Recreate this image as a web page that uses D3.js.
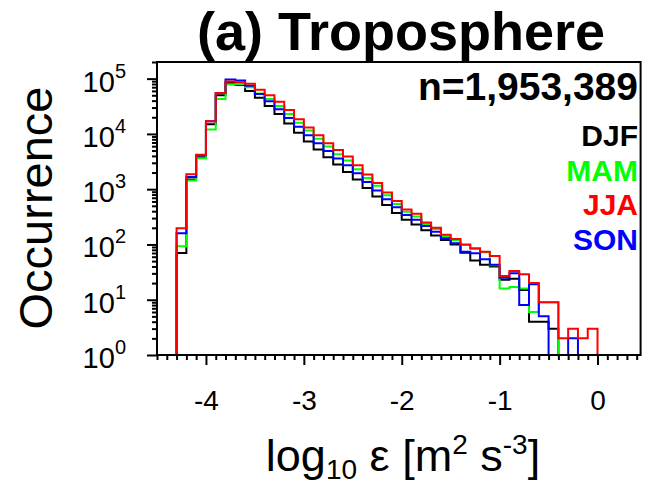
<!DOCTYPE html>
<html>
<head>
<meta charset="utf-8">
<script src="https://cdn.jsdelivr.net/npm/d3@7"></script>
<style>
  html, body { margin: 0; padding: 0; background: #fff; }
  text { font-family: "Liberation Sans", Arial, Helvetica, sans-serif; }
</style>
</head>
<body>
<div id="chart"></div>
<script>
// histogram bins: 0.1 wide, starting at log10(eps) = -4.3
const binStart = -4.3
const binWidth = 0.1

const seasons = ['DJF', 'MAM', 'JJA', 'SON']
const seasonColors = ['#000000', '#00ff00', '#ff0000', '#0000ff']

const djf = [70, 1500, 3800, 15000, 50000, 84000, 77000, 60000, 45000, 32000,
  23000, 15500, 10500, 7300, 5200, 3800, 2800, 2050, 1500, 1050,
  740, 520, 370, 280, 230, 180, 145, 121, 100, 71,
  51, 43, 40, 23, 24, 15, 4, 4, 3, 0,
  0, 0, 0]
const mam = [93, 1440, 3640, 12000, 43000, 78000, 80000, 70000, 54000, 43000,
  32000, 23000, 16000, 11500, 8200, 5900, 4300, 3300, 2300, 1600,
  1150, 780, 540, 390, 320, 235, 190, 139, 121, 98,
  83, 72, 42, 16, 17, 16, 6, 9, 9, 0,
  0, 0, 0]
const jja = [197, 1870, 4200, 16900, 55000, 89000, 86000, 81000, 63000, 50000,
  38000, 27000, 18500, 13000, 9500, 6800, 5100, 3900, 2700, 1850,
  1300, 870, 610, 430, 360, 250, 200, 150, 125, 100,
  85, 74, 62, 27, 33, 29, 20, 9, 9, 2,
  3, 2, 3]
const son = [160, 1660, 4100, 16900, 55000, 96000, 93000, 74000, 53000, 39000,
  28000, 19500, 13500, 9500, 6800, 4900, 3600, 2700, 1950, 1350,
  950, 660, 470, 340, 280, 215, 170, 129, 105, 74,
  69, 54, 43, 25, 30, 8, 19, 5, 0, 0,
  2, 0, 0]
const seriesValues = [djf, mam, jja, son]

const xMajorTicks = [-4, -3, -2, -1, 0]
const yMajorTicks = [0, 1, 2, 3, 4, 5]   // exponents
const totalCount = 'n=1,953,389'

const width = 646
const height = 489

const svg = d3.select('#chart').append('svg')
  .attr('width', width)
  .attr('height', height)

const x = d3.scaleLinear().domain([-4.5, 0.44]).range([157, 640.6])
const y = d3.scaleLog().domain([1, 2e5]).range([355, 62])

// step outlines, drawn under the frame
const line = d3.line()
  .x(d => x(d[0]))
  .y(d => y(Math.max(d[1], 1)))
  .curve(d3.curveStepAfter)

const order = [0, 1, 3, 2]
order.forEach(function(s) {
  let vals = seriesValues[s].slice()
  while (vals.length && vals[vals.length - 1] === 0) vals.pop()
  const pts = [[binStart, 1]]
  vals.forEach(function(v, i) { pts.push([binStart + i * binWidth, v]) })
  const end = binStart + vals.length * binWidth
  pts.push([end, vals[vals.length - 1]])
  pts.push([end, 1])
  svg.append('path')
    .attr('d', line(pts))
    .attr('fill', 'none')
    .attr('stroke', seasonColors[s])
    .attr('stroke-width', 2)
})

// frame
svg.append('rect')
  .attr('x', x.range()[0])
  .attr('y', y.range()[1])
  .attr('width', x.range()[1] - x.range()[0])
  .attr('height', y.range()[0] - y.range()[1])
  .attr('fill', 'none')
  .attr('stroke', '#000')
  .attr('stroke-width', 2)

// y axis ticks
const yMinor = []
for (let e = 0; e <= 5; e++) {
  for (let m = 2; m <= 9; m++) {
    if (m * Math.pow(10, e) <= 2e5) yMinor.push(m * Math.pow(10, e))
  }
}
const yMinorAxis = svg.append('g')
  .attr('transform', 'translate(' + x.range()[0] + ',0)')
  .call(d3.axisLeft(y).tickValues(yMinor).tickSize(5).tickSizeOuter(0).tickFormat(''))
const yMajorAxis = svg.append('g')
  .attr('transform', 'translate(' + x.range()[0] + ',0)')
  .call(d3.axisLeft(y).tickValues(yMajorTicks.map(e => Math.pow(10, e))).tickSize(10).tickSizeOuter(0).tickFormat(''))

// x axis ticks
const xMinor = d3.range(-45, 5).map(i => i / 10).filter(v => Math.abs(v - Math.round(v)) > 1e-6)
const xMinorAxis = svg.append('g')
  .attr('transform', 'translate(0,' + y.range()[0] + ')')
  .call(d3.axisBottom(x).tickValues(xMinor).tickSize(5).tickSizeOuter(0).tickFormat(''))
const xMajorAxis = svg.append('g')
  .attr('transform', 'translate(0,' + y.range()[0] + ')')
  .call(d3.axisBottom(x).tickValues(xMajorTicks).tickSize(10).tickSizeOuter(0).tickPadding(25)
    .tickFormat(d => String(d)))

;[yMinorAxis, yMajorAxis, xMinorAxis, xMajorAxis].forEach(function(g) {
  g.select('.domain').remove()
  g.selectAll('line').attr('stroke', '#000').attr('stroke-width', 2)
})
xMajorAxis.selectAll('text')
  .attr('fill', '#000')
  .style('font-size', '28px')

// y tick labels 10^n
yMajorTicks.forEach(function(e) {
  const t = svg.append('text')
    .attr('x', 126)
    .attr('y', y(Math.pow(10, e)) + 13)
    .attr('text-anchor', 'end')
    .style('font-size', '29px')
  t.append('tspan').text('10')
  t.append('tspan').attr('dy', -14).style('font-size', '20px').text(String(e))
})

// y title
svg.append('text')
  .attr('transform', 'translate(52,208) rotate(-90)')
  .attr('text-anchor', 'middle')
  .style('font-size', '47px')
  .text('Occurrence')

// x title
const xt = svg.append('text')
  .attr('x', 403)
  .attr('y', 471)
  .attr('text-anchor', 'middle')
  .style('font-size', '45px')
xt.append('tspan').text('log')
xt.append('tspan').attr('dy', 8).style('font-size', '28px').text('10')
xt.append('tspan').attr('dy', -8).text(' \u03b5 [m')
xt.append('tspan').attr('dy', -17).style('font-size', '28px').text('2')
xt.append('tspan').attr('dy', 17).text(' s')
xt.append('tspan').attr('dy', -17).style('font-size', '28px').text('-3')
xt.append('tspan').attr('dy', 17).text(']')

// title
svg.append('text')
  .attr('x', 401)
  .attr('y', 50)
  .attr('text-anchor', 'middle')
  .style('font-size', '54px')
  .style('font-weight', 'bold')
  .text('(a) Troposphere')

svg.append('text')
  .attr('x', 638)
  .attr('y', 100)
  .attr('text-anchor', 'end')
  .style('font-size', '39px')
  .style('font-weight', 'bold')
  .text(totalCount)

// legend, right aligned
seasons.forEach(function(s, i) {
  svg.append('text')
    .attr('x', 638)
    .attr('y', 146 + i * 34.5)
    .attr('text-anchor', 'end')
    .style('font-size', '30px')
    .style('font-weight', 'bold')
    .attr('fill', seasonColors[i])
    .text(s)
})
</script>
</body>
</html>
